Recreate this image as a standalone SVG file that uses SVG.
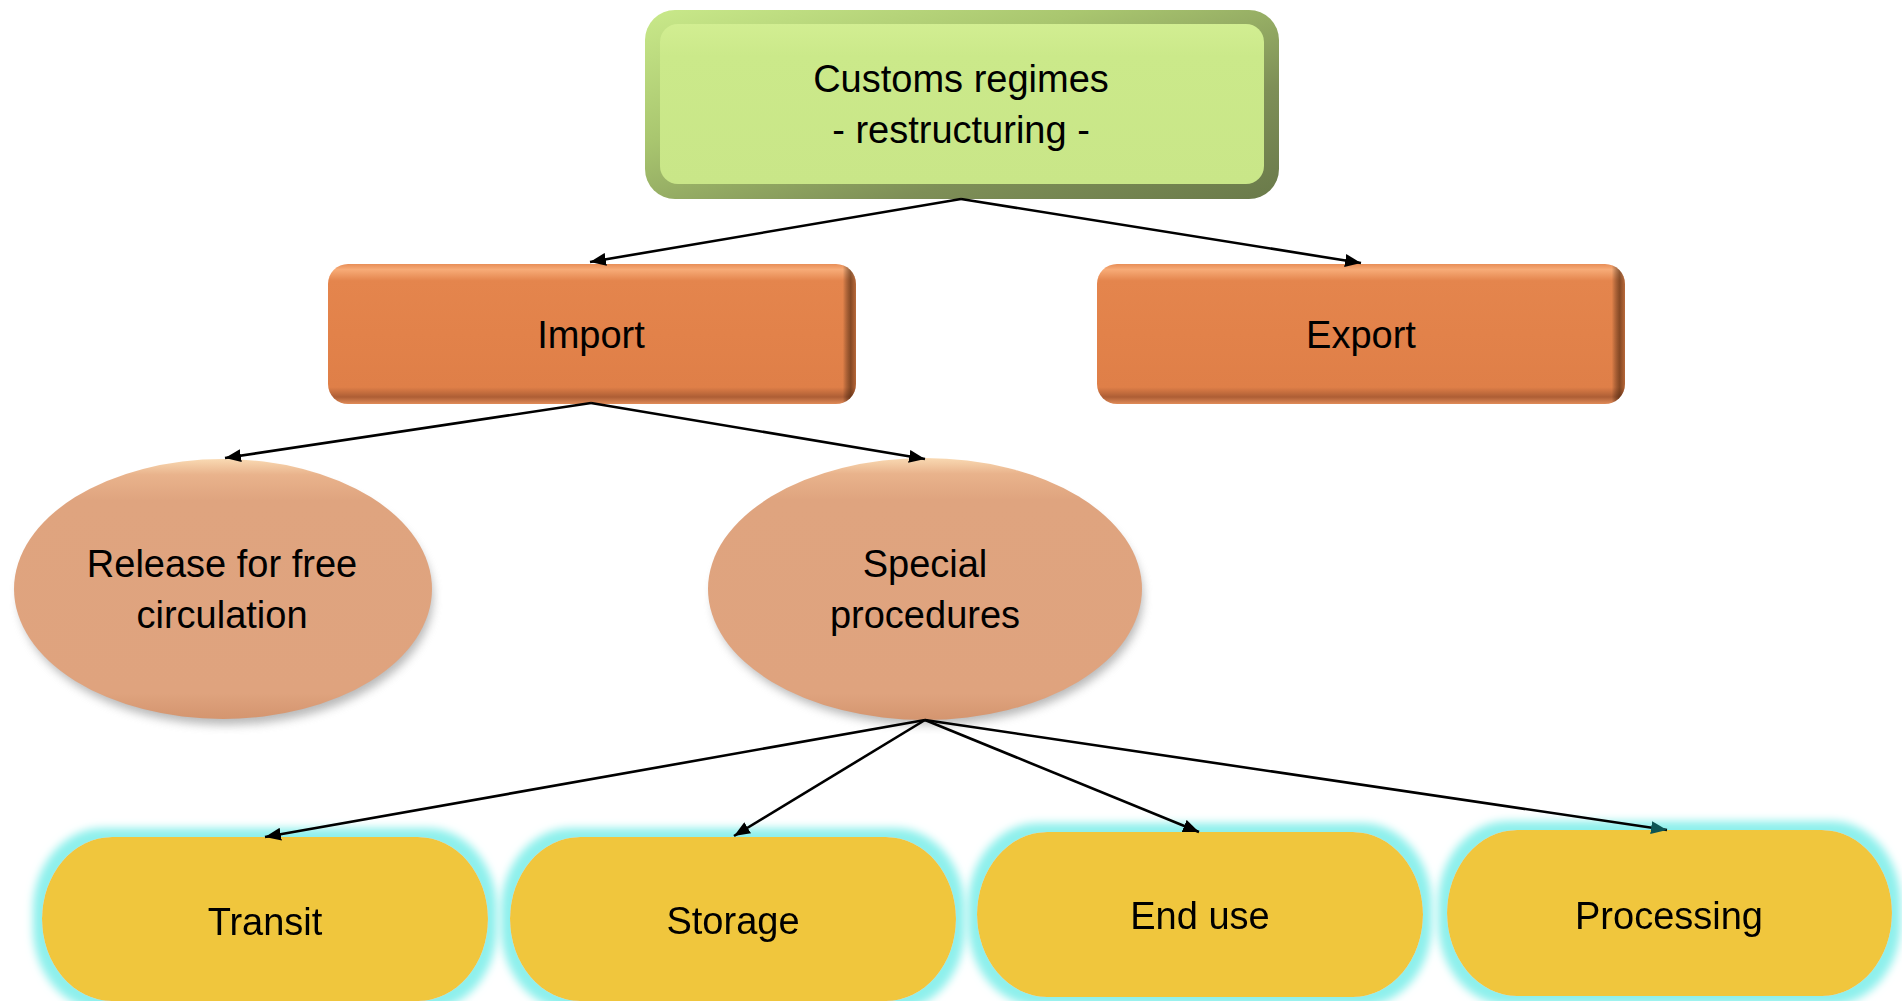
<svg xmlns="http://www.w3.org/2000/svg" width="1902" height="1001" viewBox="0 0 1902 1001">
<style>
  .t { font-family: "Liberation Sans", Arial, sans-serif; font-size: 38px; fill: #000; text-anchor: middle; }
  .conn { stroke: #000; stroke-width: 2.6; fill: none; }
</style>
<defs>
  <marker id="arr" markerUnits="userSpaceOnUse" markerWidth="17" markerHeight="13" refX="16" refY="6.5" orient="auto">
    <path d="M0,0 L16,6.5 L0,13 z" fill="#000"/>
  </marker>
  <marker id="arrTeal" markerUnits="userSpaceOnUse" markerWidth="17" markerHeight="13" refX="16" refY="6.5" orient="auto">
    <path d="M0,0 L16,6.5 L0,13 z" fill="#0E5555"/>
  </marker>
  <linearGradient id="greenOuter" x1="0" y1="0" x2="1" y2="1">
    <stop offset="0" stop-color="#C9E98A"/>
    <stop offset="0.35" stop-color="#A9C66F"/>
    <stop offset="0.7" stop-color="#7E8F57"/>
    <stop offset="1" stop-color="#6A7A4A"/>
  </linearGradient>
  <linearGradient id="greenFace" x1="0" y1="0" x2="0" y2="1">
    <stop offset="0" stop-color="#D2EE92"/>
    <stop offset="0.2" stop-color="#CBE98A"/>
    <stop offset="1" stop-color="#C9E688"/>
  </linearGradient>
  <linearGradient id="orangeV" x1="0" y1="0" x2="0" y2="1">
    <stop offset="0" stop-color="#E88E57"/>
    <stop offset="0.04" stop-color="#F7AB77"/>
    <stop offset="0.12" stop-color="#E4854D"/>
    <stop offset="0.5" stop-color="#E2824A"/>
    <stop offset="0.88" stop-color="#DF7F48"/>
    <stop offset="0.95" stop-color="#AD5E35"/>
    <stop offset="1" stop-color="#E08B58"/>
  </linearGradient>
  <linearGradient id="orangeH" x1="0" y1="0" x2="1" y2="0">
    <stop offset="0" stop-color="#000" stop-opacity="0"/>
    <stop offset="0.975" stop-color="#000" stop-opacity="0"/>
    <stop offset="0.99" stop-color="#3A1A05" stop-opacity="0.55"/>
    <stop offset="1" stop-color="#3A1A05" stop-opacity="0.25"/>
  </linearGradient>
  <linearGradient id="peach" x1="0" y1="0" x2="0" y2="1">
    <stop offset="0" stop-color="#F9D9B2"/>
    <stop offset="0.06" stop-color="#E9B38C"/>
    <stop offset="0.16" stop-color="#DFA47F"/>
    <stop offset="0.9" stop-color="#DFA37E"/>
    <stop offset="1" stop-color="#D4956F"/>
  </linearGradient>
  <filter id="shadow" x="-10%" y="-10%" width="120%" height="130%">
    <feGaussianBlur stdDeviation="5"/>
  </filter>
  <filter id="glow" x="-10%" y="-20%" width="120%" height="140%">
    <feMorphology in="SourceAlpha" operator="dilate" radius="9" result="d"/>
    <feGaussianBlur in="d" stdDeviation="4" result="b"/>
    <feFlood flood-color="#8EF0EC"/>
    <feComposite in2="b" operator="in" result="g"/>
    <feMerge><feMergeNode in="g"/><feMergeNode in="SourceGraphic"/></feMerge>
  </filter>
</defs>

<g id="node-customs">
  <rect x="645" y="10" width="634" height="189" rx="30" fill="url(#greenOuter)"/>
  <rect x="660" y="24" width="604" height="160" rx="18" fill="url(#greenFace)"/>
  <text class="t" x="961" y="92">Customs regimes</text>
  <text class="t" x="961" y="143">- restructuring -</text>
</g>

<g id="node-import">
  <rect x="328" y="264" width="528" height="140" rx="20" fill="url(#orangeV)"/>
  <rect x="328" y="264" width="528" height="140" rx="20" fill="url(#orangeH)"/>
  <text class="t" x="591" y="348">Import</text>
</g>

<g id="node-export">
  <rect x="1097" y="264" width="528" height="140" rx="20" fill="url(#orangeV)"/>
  <rect x="1097" y="264" width="528" height="140" rx="20" fill="url(#orangeH)"/>
  <text class="t" x="1361" y="348">Export</text>
</g>

<g id="node-release">
  <ellipse cx="226" cy="597" rx="207" ry="128" fill="#8A8A8A" opacity="0.6" filter="url(#shadow)"/>
  <ellipse cx="223" cy="589" rx="209" ry="130" fill="url(#peach)"/>
  <text class="t" x="222" y="577">Release for free</text>
  <text class="t" x="222" y="628">circulation</text>
</g>

<g id="node-special">
  <ellipse cx="928" cy="597" rx="215" ry="128" fill="#8A8A8A" opacity="0.6" filter="url(#shadow)"/>
  <ellipse cx="925" cy="589" rx="217" ry="131" fill="url(#peach)"/>
  <text class="t" x="925" y="577">Special</text>
  <text class="t" x="925" y="628">procedures</text>
</g>

<g id="node-transit" filter="url(#glow)">
  <rect x="42" y="837" width="446" height="164" rx="70" ry="84" fill="#F0C63E"/>
  <text class="t" x="265" y="935">Transit</text>
</g>

<g id="node-storage" filter="url(#glow)">
  <rect x="510" y="837" width="446" height="164" rx="70" ry="84" fill="#F0C63E"/>
  <text class="t" x="733" y="934">Storage</text>
</g>

<g id="node-enduse" filter="url(#glow)">
  <rect x="977" y="832" width="446" height="165" rx="70" ry="84" fill="#F0C63E"/>
  <text class="t" x="1200" y="929">End use</text>
</g>

<g id="node-processing" filter="url(#glow)">
  <rect x="1447" y="830" width="445" height="166" rx="70" ry="84" fill="#F0C63E"/>
  <text class="t" x="1669" y="929">Processing</text>
</g>

<g id="connectors">
  <line class="conn" x1="961" y1="199" x2="590" y2="262" marker-end="url(#arr)"/>
  <line class="conn" x1="961" y1="199" x2="1361" y2="263" marker-end="url(#arr)"/>
  <line class="conn" x1="591" y1="403" x2="225" y2="458" marker-end="url(#arr)"/>
  <line class="conn" x1="591" y1="403" x2="925" y2="459" marker-end="url(#arr)"/>
  <line class="conn" x1="925" y1="720" x2="265" y2="837" marker-end="url(#arr)"/>
  <line class="conn" x1="925" y1="720" x2="734" y2="836" marker-end="url(#arr)"/>
  <line class="conn" x1="925" y1="720" x2="1199" y2="832" marker-end="url(#arr)"/>
  <line class="conn" x1="925" y1="720" x2="1667" y2="830" marker-end="url(#arrTeal)"/>
</g>
</svg>
